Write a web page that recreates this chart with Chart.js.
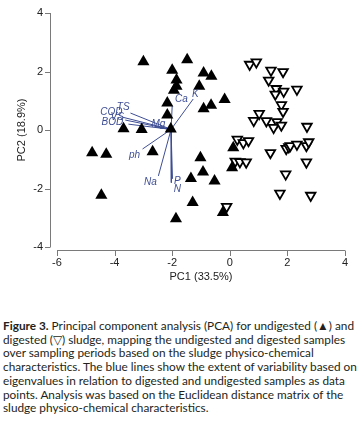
<!DOCTYPE html>
<html>
<head>
<meta charset="utf-8">
<script src="https://cdn.jsdelivr.net/npm/chart.js@4/dist/chart.umd.min.js"></script>
<style>
  body { margin: 0; background: #fff; }
  #wrap { position: relative; width: 363px; height: 421px; }
  #chartBox { position: absolute; left: 0; top: 0; width: 363px; height: 290px; }
  #caption {
    position: absolute; left: 3px; top: 319px;
    font-family: Lato, "Noto Sans", sans-serif; font-size: 11.8px; line-height: 13.7px;
    color: #231f20; white-space: nowrap;
  }
  #caption b { font-weight: bold; }
</style>
</head>
<body>
<div id="wrap">
  <div id="chartBox"><canvas id="pcaChart" width="363" height="290"></canvas></div>
  <div id="caption">
    <b>Figure 3.</b> Principal component analysis (PCA) for undigested (▲) and<br>
    digested (▽) sludge, mapping the undigested and digested samples<br>
    over sampling periods based on the sludge physico-chemical<br>
    characteristics. The blue lines show the extent of variability based on<br>
    eigenvalues in relation to digested and undigested samples as data<br>
    points. Analysis was based on the Euclidean distance matrix of the<br>
    sludge physico-chemical characteristics.
  </div>
</div>
<script>
// undigested sludge samples (filled triangles)
const undigestedPC1 = [-3.0, -1.48, -2.0, -1.85, -1.85, -1.94, -0.91, -0.64, -1.06, -0.18,
    -0.91, -0.65, -2.17, -2.17, -3.69, -3.06, -2.05, -4.78, -4.29, -2.68,
    -4.46, -1.87, -1.02, -0.93, -1.35, -0.53, -1.29, 0.12, 0.08, -0.24];
const undigestedPC2 = [2.33, 2.40, 2.04, 1.71, 1.50, 1.36, 1.95, 1.84, 1.50, 1.04,
    0.73, 0.85, 0.92, 0.51, 0.04, 0.02, 0.03, -0.78, -0.83, -0.74,
    -2.23, -3.03, -0.95, -1.44, -1.66, -1.74, -2.48, -0.61, -1.29, -2.82];

// digested sludge samples (open triangles)
const digestedPC1 = [0.69, 0.92, 1.43, 1.85, 1.35, 1.61, 1.87, 1.58, 2.33, 1.79,
    1.85, 1.02, 0.83, 1.27, 1.64, 1.52, 1.79, 2.68, 0.26, 0.47,
    0.65, 1.41, 1.96, 2.05, 2.10, 2.33, 2.66, 2.74, 2.66, 1.94,
    1.74, 2.81, 0.19, 0.35, 0.57, -0.11];
const digestedPC2 = [2.24, 2.32, 2.04, 1.99, 1.70, 1.41, 1.32, 1.22, 1.39, 0.86,
    0.63, 0.56, 0.32, 0.31, 0.28, 0.08, 0.16, 0.12, -0.32, -0.44,
    -0.37, -0.78, -0.64, -0.58, -0.54, -0.49, -0.54, -0.41, -1.10, -1.51,
    -2.17, -2.24, -1.07, -1.09, -1.10, -2.62];

// biplot vectors for the physico-chemical variables
const vectorOrigin = [-2.04, 0.02];
const varNames = ['TS', 'COD', 'VS', 'BOD', 'Mg', 'Ca', 'K', 'ph', 'Na', 'P', 'N'];
const varEndPC1 = [-3.45, -3.73, -3.63, -3.52, -2.59, -2.0, -1.27, -3.03, -2.48, -1.99, -2.03];
const varEndPC2 = [0.58, 0.44, 0.34, 0.2, 0.1, 0.82, 1.06, -0.65, -1.57, -1.67, -1.8];
const varLabelPC1 = [-3.70, -4.11, -3.91, -4.08, -2.48, -1.68, -1.2, -3.31, -2.76, -1.82, -1.82];
const varLabelPC2 = [0.78, 0.61, 0.44, 0.26, 0.19, 1.06, 1.23, -0.85, -1.77, -1.74, -2.01];

const xTicks = [-6, -4, -2, 0, 2, 4];
const yTicks = [-4, -2, 0, 2, 4];

const vectorColor = 'rgb(62, 78, 148)';
const axisColor = '#7a7a7a';
const tickFont = { family: '"Liberation Sans", Arial, sans-serif', size: 11 };

function toPoints(xs, ys) {
    return xs.map((x, i) => ({ x: x, y: ys[i] }));
}

// one small line dataset per variable vector
const vectorSets = varNames.map((name, i) => ({
    type: 'line',
    label: name,
    data: [{ x: vectorOrigin[0], y: vectorOrigin[1] }, { x: varEndPC1[i], y: varEndPC2[i] }],
    borderColor: vectorColor,
    borderWidth: 1,
    pointRadius: 0,
    fill: false,
    order: 3
}));

// R-style detached axes, drawn from the chart's own scales
const offsetAxes = {
    id: 'offsetAxes',
    afterDraw(chart) {
        const ctx = chart.ctx;
        const xs = chart.scales.x;
        const ys = chart.scales.y;
        const axX = chart.chartArea.left - 7;
        const axY = chart.chartArea.bottom + 3;
        ctx.save();
        ctx.strokeStyle = axisColor;
        ctx.lineWidth = 1;
        ctx.beginPath();
        ctx.moveTo(axX + 0.5, ys.getPixelForValue(4));
        ctx.lineTo(axX + 0.5, ys.getPixelForValue(-4));
        yTicks.forEach(v => {
            const py = Math.round(ys.getPixelForValue(v)) + 0.5;
            ctx.moveTo(axX + 0.5, py);
            ctx.lineTo(axX - 5, py);
        });
        ctx.moveTo(xs.getPixelForValue(-6), axY + 0.5);
        ctx.lineTo(xs.getPixelForValue(4), axY + 0.5);
        xTicks.forEach(v => {
            const px = Math.round(xs.getPixelForValue(v)) + 0.5;
            ctx.moveTo(px, axY + 0.5);
            ctx.lineTo(px, axY + 6);
        });
        ctx.stroke();
        ctx.restore();
    }
};

// italic variable names at the vector tips
const vectorLabels = {
    id: 'vectorLabels',
    afterDatasetsDraw(chart) {
        const ctx = chart.ctx;
        ctx.save();
        ctx.fillStyle = vectorColor;
        ctx.font = 'italic 10px "Liberation Sans", Arial, sans-serif';
        ctx.textAlign = 'center';
        ctx.textBaseline = 'middle';
        varNames.forEach((name, i) => {
            ctx.fillText(name,
                chart.scales.x.getPixelForValue(varLabelPC1[i]),
                chart.scales.y.getPixelForValue(varLabelPC2[i]));
        });
        ctx.restore();
    }
};

const ctx = document.getElementById('pcaChart').getContext('2d');
new Chart(ctx, {
    type: 'scatter',
    data: {
        datasets: [
            {
                label: 'Digested',
                data: toPoints(digestedPC1, digestedPC2),
                pointStyle: 'triangle',
                rotation: 180,
                pointRadius: 5.5,
                pointBorderWidth: 1.8,
                pointBackgroundColor: '#ffffff',
                pointBorderColor: '#000000',
                order: 1
            },
            {
                label: 'Undigested',
                data: toPoints(undigestedPC1, undigestedPC2),
                pointStyle: 'triangle',
                pointRadius: 7,
                pointBorderWidth: 0,
                pointBackgroundColor: '#000000',
                pointBorderColor: '#000000',
                order: 2
            }
        ].concat(vectorSets)
    },
    options: {
        responsive: false,
        animation: false,
        layout: { padding: { top: 13, right: 18, left: 0, bottom: 0 } },
        plugins: {
            legend: { display: false },
            tooltip: { enabled: false }
        },
        scales: {
            x: {
                type: 'linear',
                min: -6,
                max: 4,
                afterFit: scale => {
                    scale.height = 43;
                    scale.paddingLeft = 0;
                    scale.paddingRight = 0;
                },
                afterBuildTicks: scale => { scale.ticks = xTicks.map(v => ({ value: v })); },
                grid: { display: false, drawTicks: false },
                border: { display: false },
                ticks: { padding: 9, color: '#222', font: tickFont, maxRotation: 0 },
                title: {
                    display: true,
                    text: 'PC1 (33.5%)',
                    color: '#222',
                    font: tickFont,
                    padding: { top: 0, bottom: 6 }
                }
            },
            y: {
                type: 'linear',
                min: -4,
                max: 4,
                afterFit: scale => {
                    scale.width = 57;
                    scale.paddingTop = 0;
                    scale.paddingBottom = 0;
                },
                afterBuildTicks: scale => { scale.ticks = yTicks.map(v => ({ value: v })); },
                grid: { display: false, drawTicks: false },
                border: { display: false },
                ticks: { padding: 14, color: '#222', font: tickFont },
                title: {
                    display: true,
                    text: 'PC2 (18.9%)',
                    color: '#222',
                    font: tickFont,
                    padding: { top: 15, bottom: 0 }
                }
            }
        }
    },
    plugins: [offsetAxes, vectorLabels]
});
</script>
</body>
</html>
